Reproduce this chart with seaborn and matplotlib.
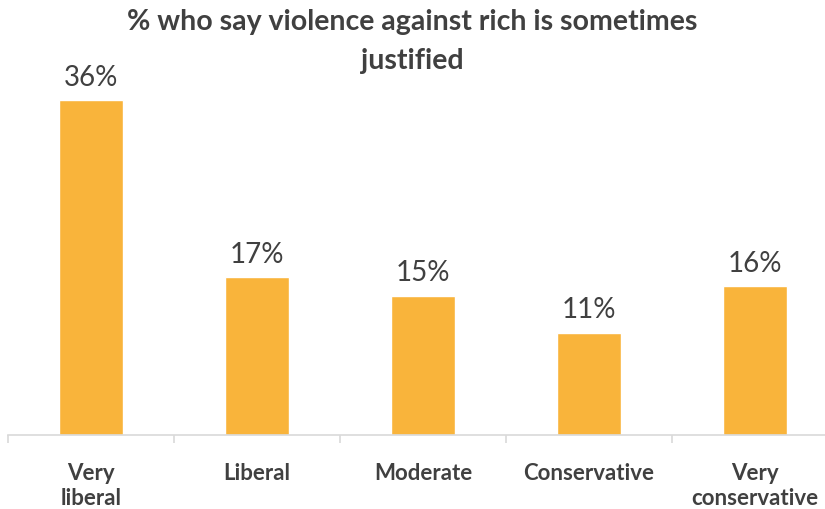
import matplotlib
matplotlib.use("Agg")
import matplotlib.pyplot as plt
import seaborn as sns
import pandas as pd

categories = ["Very\nliberal", "Liberal", "Moderate", "Conservative", "Very\nconservative"]
values = [36, 17, 15, 11, 16]
title = "% who say violence against rich is sometimes\njustified"

bar_color = "#F9B43B"
text_color = "#404040"

sns.set_theme(style="white")
plt.rcParams["font.family"] = ["Lato", "DejaVu Sans"]

df = pd.DataFrame({"group": categories, "pct": values})

fig = plt.figure(figsize=(8.25, 5.09), dpi=100)
ax = fig.add_axes([8 / 825, 74 / 509, 830 / 825, 372 / 509])

sns.barplot(data=df, x="group", y="pct", color=bar_color, width=0.39,
            saturation=1, ax=ax)

ax.set_xlim(-0.5, 4.5)
ax.set_ylim(0, 40)
ax.set_xlabel("")
ax.set_ylabel("")
ax.set_yticks([])

for i, v in enumerate(values):
    ax.text(i, v + 1.0, f"{v}%", ha="center", va="bottom",
            fontsize=20, color=text_color)

for s in ["top", "right", "left"]:
    ax.spines[s].set_visible(False)
ax.spines["bottom"].set_color("#d9d9d9")
ax.spines["bottom"].set_linewidth(1.2)

# tick marks sit between categories, labels at centers
ax.set_xticks([i - 0.5 for i in range(len(categories) + 1)], minor=True)
ax.tick_params(axis="x", which="minor", length=6, color="#d9d9d9", width=1.2,
               direction="out", bottom=True)
ax.tick_params(axis="x", which="major", length=0, pad=20)
ax.set_xticks(range(len(categories)))
ax.set_xticklabels(categories, fontsize=16, fontweight="bold", color=text_color,
                   va="top", linespacing=1.25)

fig.text(0.5, 0.983, title, ha="center", va="top", fontsize=20.5,
         fontweight="bold", color=text_color, linespacing=1.65)

fig.savefig("out.png", dpi=100)
